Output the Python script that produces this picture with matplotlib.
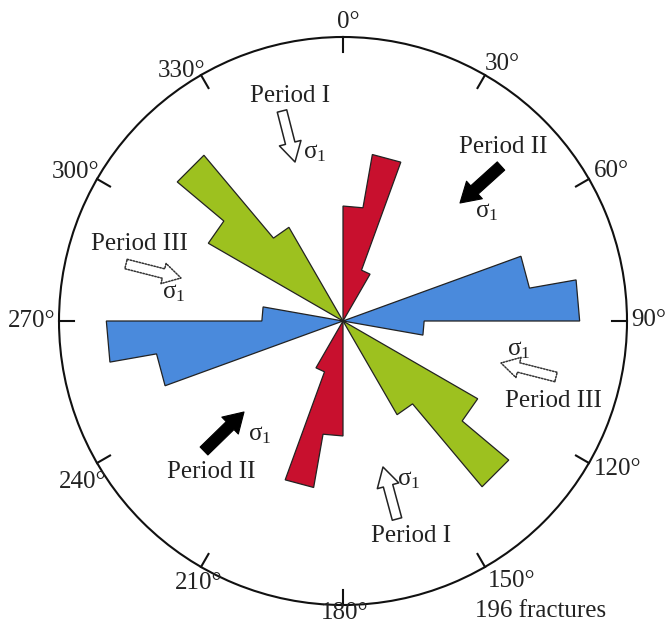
import numpy as np
import matplotlib.pyplot as plt
from matplotlib.patches import FancyArrowPatch

plt.rcParams['font.family'] = ['Liberation Serif', 'DejaVu Serif']
plt.rcParams['mathtext.fontset'] = 'custom'
plt.rcParams['mathtext.rm'] = 'Liberation Serif'
plt.rcParams['mathtext.it'] = 'Liberation Serif:italic'

# fracture counts per 10 degree strike bin (0-180, mirrored onto 180-360)
bin_width = 10
red_start, red_counts = 0, [17, 25, 8]
blue_start, blue_counts = 70, [28, 35, 12]
green_start, green_counts = 120, [23, 32, 16]
n_fractures = 196
r_max = 42

tick_angles = np.arange(0, 360, 30)
tick_labels = [f"{a}°" for a in tick_angles]
# small nudges (pixels, right/down) for the degree labels
label_nudge = [(5, 6), (7, 7), (4, 3), (1, -1), (11, -4), (16, -4),
               (2, -13), (8, -2), (4, 8), (-6, 0), (-3, 4), (-9, 14)]

W, H = 670, 625
fig = plt.figure(figsize=(W / 100, H / 100), dpi=100)
ax = fig.add_axes([59 / W, 20 / H, 568 / W, 568 / H], projection='polar')
ax.set_theta_zero_location('N')
ax.set_theta_direction(-1)
ax.set_ylim(0, r_max)
ax.grid(False)
ax.set_xticks([])
ax.set_yticks([])
ax.spines['polar'].set_linewidth(1.5)
ax.spines['polar'].set_color('#111111')


def petal(start, counts):
    th, r = [start], [0]
    for i, c in enumerate(counts):
        th += [start + i * bin_width, start + (i + 1) * bin_width]
        r += [c, c]
    th.append(start + len(counts) * bin_width)
    r.append(0)
    return np.radians(th), np.array(r)


sets = [(red_start, red_counts, '#C8102E'),
        (blue_start, blue_counts, '#4A8ADC'),
        (green_start, green_counts, '#9DC11F')]
for start, counts, color in sets:
    for offset in (0, 180):
        th, r = petal(start + offset, counts)
        ax.fill(th, r, facecolor=color, edgecolor='#222222', linewidth=0.9, zorder=2)

# inward ticks and degree labels
tick_len = r_max * 15 / 284
lab_r = r_max * 305 / 284
for a, lab, (dx, dy) in zip(tick_angles, tick_labels, label_nudge):
    t = np.radians(a)
    ax.plot([t, t], [r_max - tick_len, r_max], color='#111111', lw=1.5, clip_on=False)
    ax.annotate(lab, xy=(t, lab_r), xytext=(dx * 0.72, -dy * 0.72),
                textcoords='offset points', ha='center', va='center',
                fontsize=18, color='#222222', annotation_clip=False)


def fp(x, y):
    return (x / W, 1 - y / H)


# stress arrows: (tail, head, style)
arrows = [((282, 111), (295, 162), 'hollow'),
          ((501, 166), (460, 203), 'solid'),
          ((126, 264), (181, 278), 'dotted'),
          ((556, 377), (501, 363), 'dotted'),
          ((204, 451), (244, 412), 'solid'),
          ((397, 519), (383, 467), 'hollow')]
for tail, head, kind in arrows:
    if kind == 'solid':
        style = 'simple,head_length=1.4,head_width=1.7,tail_width=0.8'
        kw = dict(facecolor='black', edgecolor='black', linewidth=0.8)
    elif kind == 'hollow':
        style = 'simple,head_length=1.4,head_width=1.6,tail_width=0.7'
        kw = dict(facecolor='white', edgecolor='#222222', linewidth=1.1)
    else:
        style = 'simple,head_length=1.3,head_width=1.5,tail_width=0.7'
        kw = dict(facecolor='white', edgecolor='#333333', linewidth=1.1,
                  linestyle=(0, (1, 1)))
    fig.add_artist(FancyArrowPatch(fp(*tail), fp(*head), transform=fig.transFigure,
                                   arrowstyle=style, mutation_scale=10,
                                   shrinkA=0, shrinkB=0, **kw))

periods = [("Period I", 290, 102), ("Period II", 503, 153), ("Period III", 139, 250),
           ("Period III", 553, 407), ("Period II", 211, 478), ("Period I", 411, 542)]
for txt, x, y in periods:
    fig.text(*fp(x, y), txt, ha='center', va='baseline', fontsize=18, color='#222222')

sigmas = [(303, 158), (475, 217), (162, 298), (507, 355), (248, 440), (397, 485)]
for x, y in sigmas:
    fig.text(*fp(x, y), r'$\mathrm{\sigma}_{1}$', ha='left', va='baseline',
             fontsize=18, color='#222222')

fig.text(*fp(541, 617), f"{n_fractures} fractures", ha='center', va='baseline',
         fontsize=18, color='#222222')

fig.savefig('out.png', dpi=100, facecolor='white')
